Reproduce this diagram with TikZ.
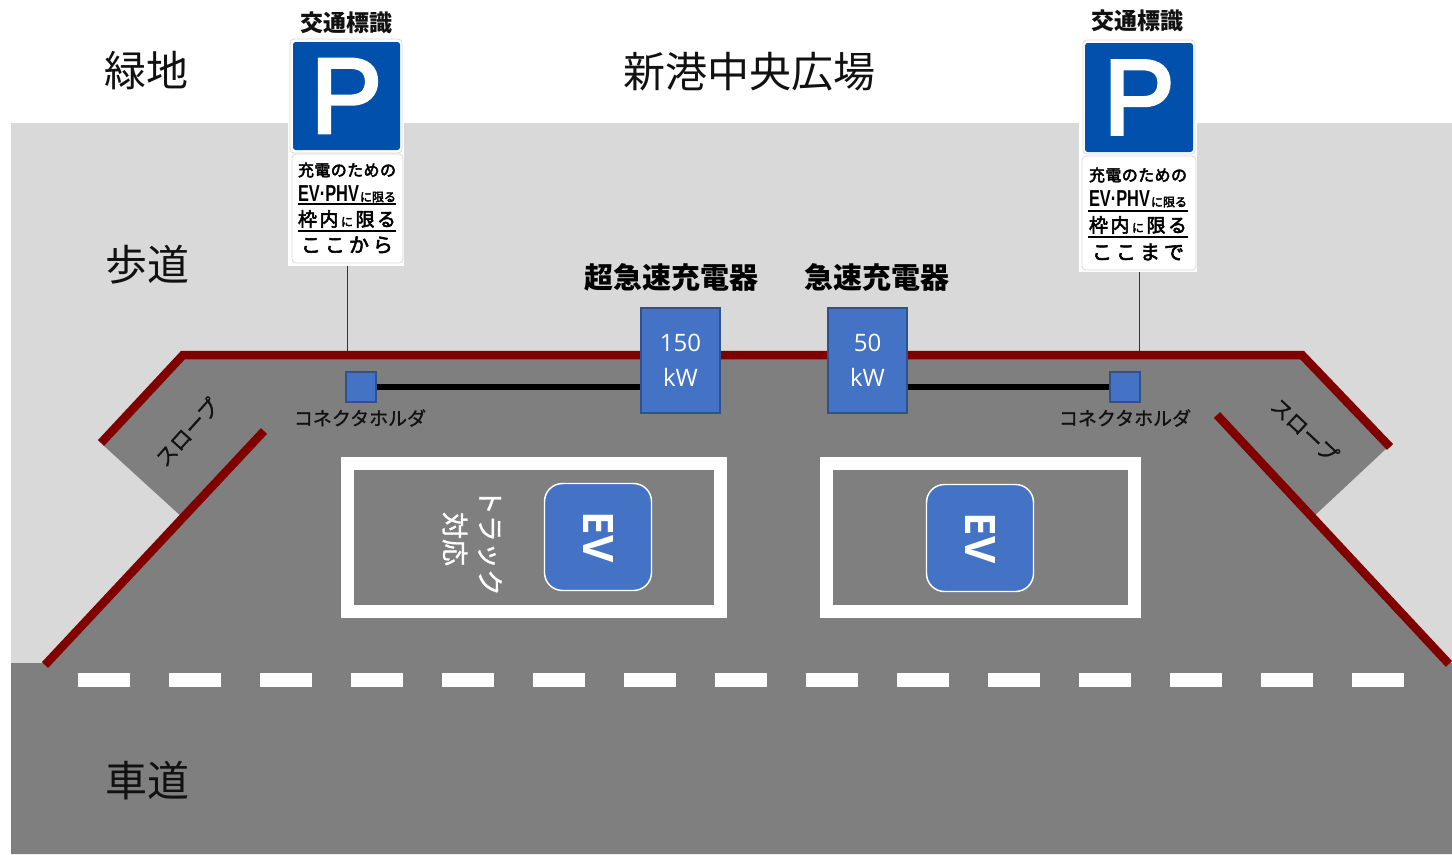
\documentclass[tikz,border=0pt]{standalone}
\usepackage{fontspec}
\usepackage{graphicx}
\setmainfont{Noto Sans CJK JP}
\newfontfamily\latinfont{Open Sans}
\newfontfamily\signfont{Liberation Sans}
\newfontfamily\pfont[FakeBold=3]{Liberation Sans}
\newfontfamily\medfont[FakeBold=1]{Noto Sans CJK JP}
\newfontfamily\semfont[FakeBold=3]{Noto Sans CJK JP}
\newdimen\pxu \pxu=0.75pt
\newcommand\fsz[2][1.2]{\fontsize{\the\dimexpr#2\pxu\relax}{\the\dimexpr#1\dimexpr#2\pxu\relax\relax}\selectfont}
\newcommand\sigline[1]{\makebox[98\pxu][s]{#1}}
\definecolor{lightg}{HTML}{D9D9D9}
\definecolor{darkg}{HTML}{7F7F7F}
\definecolor{kerb}{HTML}{800000}
\definecolor{evblue}{HTML}{4472C4}
\definecolor{evedge}{HTML}{2F528F}
\definecolor{signblue}{HTML}{0050AC}
\definecolor{ink}{HTML}{111111}
\tikzset{
  x=0.75pt,y=-0.75pt,
  bigl/.style={inner sep=0pt,text=ink,font=\fsz{42}},
  midl/.style={inner sep=0pt,text=black,font=\fsz{29}\bfseries},
  signtitle/.style={inner sep=0pt,text=ink,font=\fsz{23}\bfseries},
  holderl/.style={inner sep=0pt,text=ink,font=\medfont\fsz{19}},
  slopel/.style={inner sep=0pt,text=ink,font=\medfont\fsz{21}},
  trucklabel/.style={inner sep=0pt,text=white,font=\medfont\fsz{27},rotate=-90},
  charger/.style={draw=evedge,line width=1.1pt,fill=evblue,text=white,inner sep=0pt,
     minimum width=79\pxu,minimum height=105\pxu,align=center,font=\latinfont\fsz[1.45]{24}},
  holder/.style={draw=evedge,line width=1.1pt,fill=evblue,inner sep=0pt,minimum size=30\pxu},
  kerbline/.style={draw=kerb,line width=8.5\pxu},
  cable/.style={draw=black,line width=4.2pt},
  post/.style={draw=black!80,line width=0.7pt},
  bay/.style={draw=white,line width=9.75pt,fill=darkg,inner sep=0pt},
  evpad/.style={draw=white,line width=1.1pt,fill=evblue,rounded corners=13.5pt,inner sep=0pt,
     minimum width=107\pxu,minimum height=107\pxu,text=white,font=\latinfont\fsz{42}\bfseries},
  signplate/.style={draw=black!15,line width=0.6pt,fill=white,rounded corners=3pt,inner sep=0pt},
  signblue/.style={fill=signblue,rounded corners=2pt,inner sep=0pt,text=white},
  signl/.style={inner sep=0pt,text=black,font=\semfont\fsz[1]{16}},
  signrule/.style={draw=black,line width=1.2pt},
  dashseg/.style={fill=white,draw=none},
}
\begin{document}
\begin{tikzpicture}
\useasboundingbox (0,0) rectangle (1452,854);
\fill[white] (0,0) rectangle (1452,854);
\fill[lightg] (11,123) rectangle (1452,854);
\fill[darkg] (11,663) -- (45,663) -- (183,518) -- (103,445) -- (183,354) -- (1302,354)
   -- (1388,447) -- (1312,518) -- (1449,663) -- (1452,663) -- (1452,854) -- (11,854) -- cycle;
% kerbs
\draw[kerbline,line join=miter] (101,443) -- (183,355) -- (1302,355) -- (1390,447);
\draw[kerbline] (45,665) -- (264,431);
\draw[kerbline] (1217,415) -- (1449,664);
% road markings
\foreach \i in {0,...,14}{ \fill[dashseg] ({78+91*\i},673) rectangle ({130+91*\i},687); }
% bays
\draw[bay] (347.5,463.5) rectangle (720.5,611.5);
\draw[bay] (826.5,463.5) rectangle (1134.5,611.5);
\node[evpad] (ev1) at (598,537) {\rotatebox{-90}{EV}};
\node[evpad] (ev2) at (980,538) {\rotatebox{-90}{EV}};
\node[trucklabel] (truck) at (490,542) {トラック};
\node[trucklabel] (taiou) at (455,539) {対応};
% chargers
\node[charger] (b1) at (680.5,360.5) {150\\kW};
\node[charger] (b2) at (867.5,360.5) {50\\kW};
\node[holder] (h1) at (361,387) {};
\node[holder] (h2) at (1125,387) {};
\draw[cable] (h1.east) -- (h1.east -| b1.west);
\draw[cable] (h2.west -| b2.east) -- (h2.west);
% labels
\node[bigl] (l1) at (146,71) {緑地};
\node[bigl] (l2) at (749,72) {新港中央広場};
\node[bigl] (l3) at (147,265) {歩道};
\node[bigl] (l4) at (147,781) {車道};
\node[midl] (m1) at (671,277) {超急速充電器};
\node[midl] (m2) at (877,277) {急速充電器};
\node[holderl] (c1) at (360,418) {コネクタホルダ};
\node[holderl] (c2) at (1125,418) {コネクタホルダ};
\node[slopel,rotate=48] (s1) at (187,432) {スロープ};
\node[slopel,rotate=-43] (s2) at (1305,430) {スロープ};
% left sign
\fill[white] (288,39) rectangle (404,266);
\node[signplate,minimum width=112\pxu,minimum height=114\pxu] (pa) at (346,96) {};
\node[signblue,minimum width=107\pxu,minimum height=108\pxu] (pb) at (346.5,96) {\raisebox{-2\pxu}{\pfont\fsz{107}P}};
\node[signplate,minimum width=111\pxu,minimum height=109\pxu] (pc) at (347.5,208.5) {};
\node[signtitle] (t1) at (346,23) {交通標識};
\node[signl] (a1) at (347,170) {\sigline{充\hfill 電\hfill の\hfill た\hfill め\hfill の}};
\node[signl] (a2) at (347,194) {\sigline{\scalebox{0.78}[1.1]{\signfont\fsz{21}\bfseries EV·PHV}\hfill{\fsz{12}に限る}}};
\node[signl] (a3) at (347,219) {\sigline{\fsz{19}枠\hfill 内\hfill{\fsz{12}に}\hfill 限\hfill る}};
\node[signl] (a4) at (347,245) {\sigline{\hspace{3\pxu}\fsz{20}こ\hfill こ\hfill か\hfill ら\hspace{3\pxu}}};
\draw[signrule] (298,204) -- (396,204);
\draw[signrule] (298,231) -- (396,231);
% right sign
\fill[white] (1079,40) rectangle (1197,272);
\node[signplate,minimum width=112\pxu,minimum height=114\pxu] (qa) at (1139,97) {};
\node[signblue,minimum width=108\pxu,minimum height=109\pxu] (qb) at (1139,97.5) {\raisebox{-2\pxu}{\pfont\fsz{107}P}};
\node[signplate,minimum width=114\pxu,minimum height=114\pxu] (qc) at (1139,213) {};
\node[signtitle] (t2) at (1137,21) {交通標識};
\node[signl] (b1a) at (1138,175) {\sigline{充\hfill 電\hfill の\hfill た\hfill め\hfill の}};
\node[signl] (b2a) at (1138,199) {\sigline{\scalebox{0.78}[1.1]{\signfont\fsz{21}\bfseries EV·PHV}\hfill{\fsz{12}に限る}}};
\node[signl] (b3a) at (1138,225) {\sigline{\fsz{19}枠\hfill 内\hfill{\fsz{12}に}\hfill 限\hfill る}};
\node[signl] (b4a) at (1138,252) {\sigline{\hspace{3\pxu}\fsz{20}こ\hfill こ\hfill ま\hfill で\hspace{3\pxu}}};
\draw[signrule] (1088,211) -- (1188,211);
\draw[signrule] (1088,237) -- (1188,237);
% posts
\coordinate (k1) at (347,351);
\coordinate (k2) at (1139,351);
\coordinate (p1) at (347,266);
\coordinate (p2) at (1139,272);
\draw[post] (p1) -- (k1);
\draw[post] (p2) -- (k2);
\end{tikzpicture}
\end{document}
